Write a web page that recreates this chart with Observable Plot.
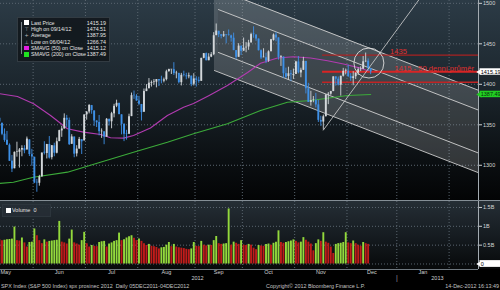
<!DOCTYPE html>
<html><head><meta charset="utf-8">
<script src="https://cdn.jsdelivr.net/npm/d3@7"></script>
<script src="https://cdn.jsdelivr.net/npm/@observablehq/plot@0.6"></script>
<style>
html,body{margin:0;padding:0;background:#000;width:500px;height:290px;overflow:hidden;font-family:"Liberation Sans",Arial,sans-serif;}
#wrap{position:relative;width:500px;height:290px;background:#000;}
#topbg{position:absolute;left:0;top:0;width:500px;height:200px;background:linear-gradient(#2c3b46 0%,#1b252c 45%,#0b0f12 80%,#030405 100%);}
#topc{position:absolute;left:0;top:0;}
#sep{position:absolute;left:0;top:200px;width:500px;height:1px;background:#858f96;}
#botbg{position:absolute;left:0;top:201px;width:500px;height:68px;background:linear-gradient(#252e35 0%,#161c21 50%,#07090a 100%);}
#botc{position:absolute;left:0;top:201px;}
.legend{position:absolute;background:rgba(17,23,27,.88);border:1px solid #323b42;color:#e6e6e6;font-size:5.3px;}
.row{position:absolute;left:0;height:6.3px;line-height:6.3px;white-space:nowrap;width:100%;}
.row .lab{position:absolute;left:13px;}
.row .val{position:absolute;right:3px;}
.row .ic{position:absolute;left:6px;top:0.8px;width:4.6px;height:4.6px;}
.row .sym{position:absolute;left:6.5px;color:#b8b8b8;font-family:"DejaVu Sans";font-size:5px;}
#footer{position:absolute;left:0;top:283px;width:500px;height:7px;font-size:5.4px;line-height:7px;color:#c4c4c4;white-space:nowrap;}
</style></head>
<body><div id="wrap">
<div id="topbg"></div><div id="topc"></div>
<div id="sep"></div>
<div id="botbg"></div><div id="botc"></div>
<div class="legend" id="legend" style="left:17px;top:17px;width:91px;height:43px;"></div>
<div class="legend" id="vlegend" style="left:2px;top:204px;width:47px;height:11px;background:rgba(38,46,53,.9);border-color:#2c353c;"></div>
<div id="footer"></div>
</div>
<script>
// ---- data (trading-day slots; slot 0 = 10 May 2012, slot 150 = 14 Dec 2012) ----
const opens = [1354.6,1358.1,1351.9,1338.4,1330.8,1324.8,1305.1,1295.7,1316.1,1316.0,
1318.7,1320.6,1318.9,1331.3,1313.1,1309.9,1278.3,1277.8,1285.6,1316.1,
1314.6,1325.7,1309.4,1324.0,1314.9,1329.2,1342.4,1344.8,1358.0,1355.4,
1325.9,1334.9,1314.1,1320.0,1331.5,1330.1,1362.3,1365.8,1373.7,1367.1,
1354.7,1352.9,1341.4,1341.3,1334.8,1356.5,1353.7,1363.5,1373.0,1376.5,
1362.3,1350.5,1338.4,1338.2,1360.1,1385.9,1385.3,1379.3,1375.1,1365.5,
1391.0,1394.5,1401.2,1402.3,1402.6,1405.9,1404.4,1403.9,1405.8,1415.8,
1417.9,1418.1,1413.1,1413.5,1402.0,1411.1,1410.4,1409.3,1410.1,1400.1,
1406.5,1404.9,1403.7,1432.1,1437.9,1429.1,1433.6,1436.6,1460.1,1465.4,
1461.2,1459.5,1461.1,1460.3,1459.8,1456.9,1441.6,1433.4,1447.1,1440.9,
1445.0,1446.1,1451.1,1461.4,1460.9,1455.9,1441.5,1432.8,1432.8,1428.8,
1440.3,1454.2,1460.9,1457.3,1433.2,1433.7,1413.2,1409.7,1413.0,1411.0,
1412.2,1427.6,1414.0,1417.3,1428.3,1394.5,1377.6,1379.9,1380.0,1374.6,
1355.4,1353.4,1359.9,1386.8,1387.8,1391.0,1409.2,1406.3,1398.8,1410.0,
1416.0,1416.3,1409.5,1407.1,1409.4,1414.0,1418.1,1418.6,1427.8,1428.5,
1419.5];
const highs = [1365.9,1365.7,1351.9,1344.9,1341.8,1326.4,1312.2,1316.4,1328.5,1320.7,
1324.1,1324.2,1334.9,1331.3,1319.7,1309.9,1282.6,1287.6,1315.1,1329.1,
1325.8,1335.5,1324.3,1327.3,1333.7,1343.3,1348.2,1363.5,1361.6,1358.3,
1337.8,1334.9,1324.2,1334.4,1331.5,1362.2,1366.4,1374.8,1373.9,1367.1,
1354.9,1361.5,1345.0,1341.3,1357.7,1357.3,1365.4,1375.3,1380.4,1376.5,
1362.3,1351.5,1343.2,1363.1,1389.2,1391.7,1387.2,1385.0,1375.1,1394.2,
1399.6,1407.1,1404.1,1405.9,1405.9,1405.9,1410.0,1407.7,1417.4,1418.7,
1418.1,1426.7,1416.1,1413.5,1413.5,1416.2,1413.6,1413.9,1410.1,1413.1,
1409.3,1408.8,1432.1,1437.9,1438.7,1437.8,1439.2,1463.8,1474.5,1465.6,
1461.5,1465.2,1461.2,1467.1,1460.7,1463.2,1441.6,1450.2,1447.1,1457.1,
1451.5,1454.3,1463.1,1471.0,1460.9,1455.9,1442.5,1443.9,1438.4,1441.3,
1455.5,1462.2,1464.0,1457.3,1435.5,1433.7,1420.0,1421.1,1417.1,1418.8,
1428.4,1434.3,1419.9,1433.4,1428.3,1401.2,1391.4,1384.9,1388.8,1380.1,
1360.6,1362.0,1386.9,1389.8,1391.3,1409.2,1409.2,1409.0,1410.0,1419.7,
1418.9,1423.7,1413.1,1415.6,1414.0,1420.3,1421.6,1434.3,1438.6,1431.4,
1419.5];
const lows = [1354.6,1348.9,1336.6,1328.4,1324.8,1304.9,1291.0,1295.7,1310.0,1296.5,
1310.5,1314.2,1318.9,1310.8,1298.9,1277.3,1266.7,1274.2,1285.6,1312.7,
1307.8,1307.7,1306.6,1310.5,1314.1,1329.2,1334.5,1344.8,1346.5,1324.4,
1325.9,1309.3,1310.3,1320.0,1313.3,1330.1,1355.7,1363.5,1363.0,1348.0,
1346.6,1336.3,1333.2,1325.4,1334.8,1348.5,1345.1,1358.6,1371.2,1362.2,
1337.6,1329.2,1331.0,1338.2,1360.1,1381.4,1379.2,1373.6,1354.7,1365.5,
1391.0,1394.5,1396.6,1398.8,1395.6,1397.3,1400.6,1401.8,1404.2,1414.7,
1412.1,1410.9,1406.8,1400.5,1398.0,1409.1,1405.6,1406.8,1397.0,1398.0,
1396.6,1401.3,1403.7,1431.5,1429.0,1429.1,1432.9,1435.3,1460.1,1457.6,
1456.1,1457.9,1450.0,1459.5,1452.1,1441.6,1430.5,1433.4,1435.6,1440.9,
1439.0,1442.0,1451.1,1456.9,1453.1,1441.2,1430.6,1432.8,1425.5,1427.2,
1440.3,1453.4,1452.6,1429.9,1422.1,1407.6,1407.1,1405.1,1403.3,1406.0,
1412.2,1412.9,1408.1,1417.3,1388.1,1377.5,1373.0,1377.2,1370.8,1352.9,
1348.1,1343.4,1359.9,1374.9,1386.4,1391.0,1397.7,1398.0,1385.4,1409.0,
1411.6,1408.5,1403.7,1398.2,1405.9,1410.9,1415.6,1418.6,1426.8,1416.0,
1411.9];
const closes = [1358.0,1353.4,1338.4,1330.7,1324.8,1304.9,1295.2,1316.0,1316.6,1318.9,
1320.7,1317.8,1332.4,1313.3,1310.3,1278.0,1278.2,1285.5,1315.1,1315.0,
1325.7,1308.9,1324.2,1314.9,1329.1,1342.8,1344.8,1358.0,1355.7,1325.5,
1335.0,1313.7,1320.0,1331.9,1329.0,1362.2,1365.5,1374.0,1367.6,1354.7,
1352.5,1341.5,1341.5,1334.8,1356.8,1353.6,1363.7,1372.8,1376.5,1362.7,
1350.5,1338.3,1337.9,1360.0,1386.0,1385.3,1379.3,1375.3,1365.0,1391.0,
1394.2,1401.4,1402.2,1402.8,1405.9,1404.1,1403.9,1405.5,1415.5,1418.2,
1418.1,1413.2,1413.5,1402.1,1411.1,1410.4,1409.3,1410.5,1399.5,1406.6,
1404.9,1403.4,1432.1,1437.9,1429.1,1433.6,1436.6,1460.0,1465.8,1461.2,
1459.3,1461.1,1460.3,1460.2,1456.9,1441.6,1433.3,1447.2,1440.7,1444.5,
1445.8,1451.0,1461.4,1460.9,1455.9,1441.5,1432.6,1432.8,1428.6,1440.1,
1454.9,1460.9,1457.3,1433.2,1433.8,1413.1,1408.8,1413.0,1411.9,1412.2,
1427.6,1414.2,1417.3,1428.4,1394.5,1377.5,1379.9,1380.0,1374.5,1355.5,
1353.3,1359.9,1386.9,1387.8,1391.0,1409.2,1406.3,1398.9,1409.9,1416.0,
1416.2,1409.5,1407.1,1409.3,1413.9,1418.1,1418.6,1427.8,1428.5,1419.5,
1415.19];
// volume, billions
const volumes = [0.66,0.64,0.62,0.63,0.64,0.65,0.66,0.98,0.62,0.61,
0.69,0.56,0.45,0.57,0.58,0.93,0.75,0.62,0.54,0.64,
0.58,0.60,0.61,0.62,0.63,1.13,0.58,0.56,0.53,0.66,
0.90,0.56,0.53,0.50,0.62,0.84,0.54,0.45,0.49,0.47,
0.46,0.57,0.59,0.60,0.45,0.53,0.56,0.60,0.62,0.82,
0.62,0.64,0.69,0.72,0.75,0.68,0.62,0.66,0.60,0.54,
0.49,0.52,0.47,0.46,0.44,0.40,0.43,0.44,0.50,0.57,
0.46,0.52,0.45,0.43,0.42,0.41,0.39,0.38,0.40,0.57,
0.47,0.46,0.60,0.50,0.48,0.50,0.49,0.62,0.73,0.54,
0.52,0.53,0.54,1.46,0.50,0.58,0.55,0.52,0.62,0.50,
0.49,0.52,0.50,0.42,0.38,0.49,0.48,0.47,0.52,0.53,
0.50,0.55,0.58,0.88,0.57,0.55,0.57,0.59,0.61,0.64,
0.60,0.56,0.58,0.70,0.63,0.58,0.53,0.35,0.54,0.64,
0.60,0.83,0.58,0.55,0.45,0.28,0.52,0.54,0.55,0.57,
0.83,0.56,0.54,0.61,0.54,0.50,0.47,0.57,0.54,0.52,
0];
// moving averages: [slot, value]
const sma50 = [[0,1389],[8.2,1384.9],[14.7,1375.9],[21.5,1361.5],[28.3,1345.1],[34.7,1340.9],[41.6,1338.0],[45.6,1334.0],[50.8,1333.5],[54.8,1336.8],[61.6,1346.0],[68.4,1361.5],[74.9,1371.7],[78.9,1376.3],[85,1386],[92.5,1398.5],[100.6,1414.6],[105.8,1426],[112.6,1432.5],[119,1434.0],[125.9,1432.5],[132.7,1429.0],[139.1,1425.0],[145.9,1420.0],[150,1415.12]];
const sma200 = [[0,1277.3],[6.6,1279.1],[14.6,1285.3],[28.3,1291.5],[41.5,1303.8],[54.8,1316.2],[68.4,1328.5],[78.9,1338.9],[92.5,1351.2],[105.8,1367.7],[116.6,1377.9],[125.9,1380.0],[132.7,1382.8],[140.7,1386.2],[150,1387.49]];
// trend channel (slot, value) ends
const outerX = [87.3, 193.3], outerTop = [1518.8, 1392.6], outerBottom = [1417.0, 1290.8];
const innerX = [88.9, 193.3], innerTop = [1492.3, 1368.1], innerBottom = [1439.3, 1315.1];
// support line from the 16-Nov low
const trendX = [131, 175], trendY = [1343.4, 1528];
const circleX = [149.3], circleY = [1426.3];
// red levels
const redLevels = [1436, 1415.5, 1402.5];
const redStart = 130.7;
const redLabels = ["1435", "1415 - 50 denní průměr"];
const redLabelX = [157.8, 159.6];
const redLabelY = [1436, 1415.5];
// tags on the price axis
const tagValues = [1415.19, 1387.49];
// axes
const priceTicks = [1300, 1350, 1400, 1450, 1500];
const volTicks = [0.5, 1, 1.5];
const monthLabels = ["May","Jun","Jul","Aug","Sep","Oct","Nov","Dec","Jan"];
const monthMid = [3.5, 25, 46, 68, 89, 109, 130, 150.5, 171];
const monthStart = [14.5, 35.5, 56.5, 79.5, 98.5, 119.5, 140.5, 160.5, 181.5];
const yearLabels = ["2012", "2013"];
const yearMid = [80.5, 176.8];
const yearBreak = [160.5];
// legend
const legendLabels = ["Last Price","High on 09/14/12","Average","Low on 06/04/12","SMAVG (50) on Close","SMAVG (200) on Close"];
const legendValues = ["1415.19","1474.51","1387.95","1266.74","1415.12","1387.49"];

(function () {
const xDomain = [1.405, 193.3];
const FONT = "'Liberation Sans', Arial, sans-serif";
const grid = "#5a6670";
const candles = closes.map((c, i) => ({i, o: opens[i], h: highs[i], l: lows[i], c}));
const candleColor = d => d.c >= d.o ? "#d3d7da" : "#3e90e6";
const band = (xs, lo, hi) => xs.map((x, k) => ({x, lo: lo[k], hi: hi[k]}));
const chLines = [outerTop, innerTop, innerBottom, outerBottom].flatMap((ys, k) => {
  const xs = (k === 0 || k === 3) ? outerX : innerX;
  return xs.map((x, j) => ({x, y: ys[j], k}));
});
const tagFill = ["#ffffff", "#22cf22"];
const tagText = ["#000000", "#05300a"];

const topPlot = Plot.plot({
  width: 500, height: 200,
  marginLeft: 0, marginRight: 22, marginTop: 0, marginBottom: 0,
  style: {background: "transparent", color: "#d2d2d2", fontFamily: FONT, fontSize: "5.5px"},
  x: {domain: xDomain, axis: null, label: null},
  y: {domain: [1256.5, 1503.5], axis: null, label: null},
  color: {type: "identity"},
  marks: [
    Plot.ruleY(priceTicks, {stroke: grid, strokeDasharray: "1,2"}),
    Plot.ruleX(monthStart, {stroke: grid, strokeDasharray: "1,2"}),
    Plot.areaY(band(outerX, outerBottom, outerTop), {x: "x", y1: "lo", y2: "hi", fill: "#ffffff", fillOpacity: 0.17, clip: true}),
    Plot.areaY(band(innerX, innerBottom, innerTop), {x: "x", y1: "lo", y2: "hi", fill: "#000000", fillOpacity: 0.10, clip: true}),
    Plot.line(chLines, {x: "x", y: "y", z: "k", stroke: "#d0d0d0", strokeWidth: 0.9, clip: true}),
    Plot.line(sma200, {x: d => d[0], y: d => d[1], stroke: "#3caa3a", strokeWidth: 1.1}),
    Plot.line(sma50, {x: d => d[0], y: d => d[1], stroke: "#b23bb0", strokeWidth: 1.1}),
    Plot.ruleY(redLevels, {y: d => d, x1: redStart, x2: xDomain[1], stroke: (d, i) => ["#a82222", "#d82424", "#c02424"][i], strokeWidth: (d, i) => [1.2, 1.8, 1.4][i]}),
    Plot.ruleX(candles, {x: "i", y1: "l", y2: "h", stroke: candleColor, strokeWidth: 0.9}),
    Plot.ruleX(candles, {x: "i", y1: "o", y2: d => Math.abs(d.c - d.o) < 0.7 ? d.o + 0.7 : d.c, stroke: candleColor, strokeWidth: 1.9}),
    Plot.line(trendX.map((x, k) => ({x, y: trendY[k]})), {x: "x", y: "y", stroke: "#d4d4d4", strokeWidth: 0.8, clip: true}),
    Plot.dot(circleX.map((x, k) => ({x, y: circleY[k]})), {x: "x", y: "y", r: 15, stroke: "#dedede", strokeWidth: 0.9, fill: "none"}),
    Plot.text(redLabels, {x: (d, i) => redLabelX[i], y: (d, i) => redLabelY[i], text: d => d, fill: "#e03030", fontSize: 7.6, textAnchor: "start", lineAnchor: "bottom", dy: -1.2}),
    Plot.ruleX([xDomain[1]], {stroke: "#a3abb1"}),
    Plot.axisY(priceTicks, {anchor: "right", label: null, tickSize: 3, tickPadding: 1.5, tickFormat: "d", fontSize: 5.5, fill: "#d6d6d6", stroke: "#cfcfcf"}),
    Plot.rect(tagValues, {x1: xDomain[1] + 0.6, x2: xDomain[1] + 9.2, y1: d => d - 4.0, y2: d => d + 4.0, fill: (d, i) => tagFill[i]}),
    Plot.dot(tagValues, {x: xDomain[1] + 0.5, y: d => d, symbol: "triangle", r: 2.3, rotate: -90, fill: (d, i) => tagFill[i], stroke: "none"}),
    Plot.text(tagValues, {x: xDomain[1] + 0.9, y: d => d, text: d => d.toFixed(2), textAnchor: "start", fill: (d, i) => tagText[i], fontSize: 5.5})
  ]
});
document.getElementById("topc").append(topPlot);

const vols = volumes.map((v, i) => ({i, v, up: i > 0 && v > volumes[i - 1]}));
const botPlot = Plot.plot({
  width: 500, height: 82,
  marginLeft: 0, marginRight: 22, marginTop: 0, marginBottom: 14,
  style: {background: "transparent", color: "#d2d2d2", fontFamily: FONT, fontSize: "5.5px"},
  x: {domain: xDomain, axis: null, label: null},
  y: {domain: [-0.146, 1.658], axis: null, label: null},
  color: {type: "identity"},
  marks: [
    Plot.ruleY([0, ...volTicks], {stroke: grid, strokeDasharray: "1,2"}),
    Plot.ruleX(monthStart, {stroke: grid, strokeDasharray: "1,2"}),
    Plot.ruleX(vols.filter(d => d.v > 0), {x: "i", y1: 0, y2: "v", stroke: d => d.up ? "#93d93c" : "#c01c1a", strokeWidth: 1.9}),
    Plot.ruleY([-0.146], {stroke: "#6f787f"}),
    Plot.ruleX([xDomain[1]], {stroke: "#a3abb1"}),
    Plot.axisY(volTicks, {anchor: "right", label: null, tickSize: 3, tickPadding: 1.5, tickFormat: d => d + "B", fontSize: 5.5, fill: "#d6d6d6", stroke: "#cfcfcf"}),
    Plot.rect([0], {x1: xDomain[1] + 0.6, x2: xDomain[1] + 9.2, y1: d => d - 0.09, y2: d => d + 0.09, fill: "#ffffff"}),
    Plot.dot([0], {x: xDomain[1] + 0.5, y: d => d, symbol: "triangle", r: 2.3, rotate: -90, fill: "#ffffff", stroke: "none"}),
    Plot.text([0], {x: xDomain[1] + 0.9, y: d => d, text: d => String(d), textAnchor: "start", fill: "#000", fontSize: 5.5}),
    Plot.text(monthLabels, {x: (d, i) => monthMid[i], frameAnchor: "bottom", dy: 4.5, text: d => d, fill: "#d0d0d0", fontSize: 5.5}),
    Plot.text(yearLabels, {x: (d, i) => yearMid[i], frameAnchor: "bottom", dy: 10.8, text: d => d, fill: "#d0d0d0", fontSize: 5.5}),
    Plot.text(yearBreak, {x: d => d, frameAnchor: "bottom", dy: 10.5, text: () => "|", fill: "#9a9a9a", fontSize: 7})
  ]
});
document.getElementById("botc").append(botPlot);

const lg = document.getElementById("legend");
const icons = ["sq:#ffffff", "sym:⊤", "sym:+", "sym:⊥", "sq:#e21fe2", "sq:#1fe21f"];
legendLabels.forEach((lab, k) => {
  const r = document.createElement("div");
  r.className = "row";
  r.style.top = (1.6 + k * 6.33) + "px";
  const [t, v] = icons[k].split(":");
  const ic = t === "sq" ? `<span class="ic" style="background:${v}"></span>` : `<span class="sym">${v}</span>`;
  r.innerHTML = ic + `<span class="lab">${lab}</span><span class="val">${legendValues[k]}</span>`;
  lg.append(r);
});
const tree = document.createElement("div");
tree.style.cssText = "position:absolute;left:3px;top:4px;width:1px;height:32px;background:#7c858b;";
lg.append(tree);

const vl = document.getElementById("vlegend");
vl.innerHTML = '<span style="position:absolute;left:3px;top:3px;width:4.5px;height:4.5px;background:#fff"></span><span style="position:absolute;left:9px;top:0;line-height:11px;font-size:5.5px;color:#e4e4e4">Volume&nbsp; 0</span>';

const footer = document.getElementById("footer");
footer.innerHTML = '<span style="position:absolute;left:1px">SPX Index (S&amp;P 500 Index) spx prosinec 2012&nbsp; Daily 05DEC2011-04DEC2012</span>' +
  '<span style="position:absolute;left:266px">Copyright© 2012 Bloomberg Finance L.P.</span>' +
  '<span style="position:absolute;right:1px">14-Dec-2012 16:13:49</span>';
})();
</script>
</body></html>
